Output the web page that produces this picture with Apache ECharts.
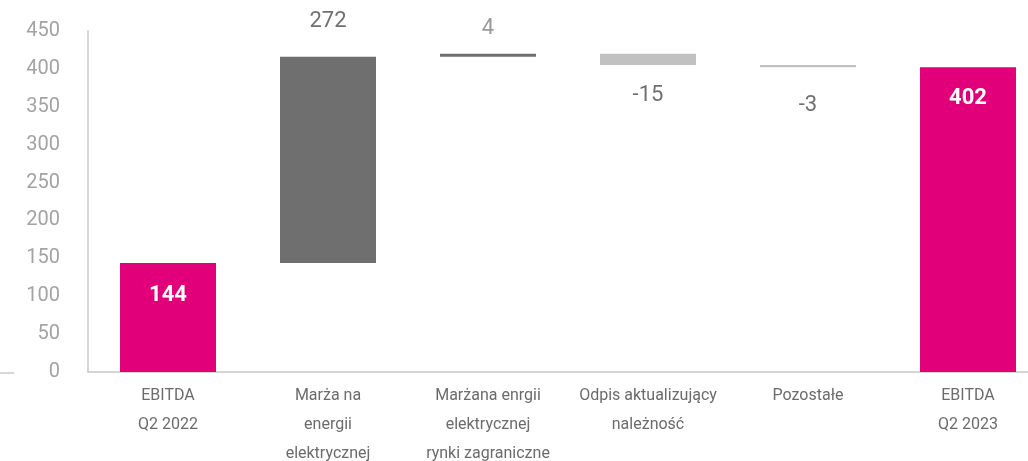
<!DOCTYPE html>
<html>
<head>
<meta charset="utf-8">
<script src="https://cdn.jsdelivr.net/npm/echarts@6/dist/echarts.min.js"></script>
<style>
  html, body { margin: 0; padding: 0; background: #fff; }
  #main { width: 1028px; height: 461px; }
</style>
</head>
<body>
<div id="main"></div>
<script>
// kategorie na osi X
const categories = [
  'EBITDA\nQ2 2022',
  'Marża na\nenergii\nelektrycznej',
  'Marżana enrgii\nelektrycznej\nrynki zagraniczne',
  'Odpis aktualizujący\nnależność',
  'Pozostałe',
  'EBITDA\nQ2 2023'
]
// wartości (pierwsza i ostatnia to sumy)
const values = [144, 272, 4, -15, -3, 402]
const isTotal = [true, false, false, false, false, true]

const colors = ['#e2007a', '#6f6f6f', '#6f6f6f', '#c1c1c1', '#c1c1c1', '#e2007a']

// podstawa niewidocznego słupka i wysokość widocznego
let running = 0
const base = []
const visible = []
values.forEach((v, i) => {
  if (isTotal[i]) {
    base.push(0)
    visible.push(v)
    running = v
  } else {
    const next = running + v
    base.push(Math.min(running, next))
    visible.push(Math.abs(v))
    running = next
  }
})

const labelDist = [22, 24, 14, 19, 27, 20]

const chart = echarts.init(document.getElementById('main'))
const option = {
  animation: false,
  grid: { left: 88, right: -20, top: 31, bottom: 89, containLabel: false, outerBoundsMode: 'none' },
  xAxis: {
    type: 'category',
    data: categories,
    axisLine: { lineStyle: { color: '#c8c8c8', width: 1.5 } },
    axisTick: { show: false },
    axisLabel: {
      color: '#6b6b6b',
      fontSize: 16,
      lineHeight: 29,
      fontFamily: 'Roboto',
      margin: 9,
      interval: 0
    }
  },
  yAxis: {
    type: 'value',
    min: 0,
    max: 450,
    interval: 50,
    axisLine: { show: true, lineStyle: { color: '#c8c8c8', width: 1.5 } },
    axisTick: { show: false },
    splitLine: { show: false },
    axisLabel: {
      color: '#a3a3a3',
      fontSize: 20,
      fontFamily: 'Roboto',
      margin: 28
    }
  },
  graphic: [
    {
      type: 'line',
      shape: { x1: 0, y1: 373, x2: 14, y2: 373 },
      style: { stroke: '#c8c8c8', lineWidth: 1.5 }
    }
  ],
  series: [
    {
      type: 'bar',
      stack: 'w',
      barWidth: 96,
      silent: true,
      itemStyle: { color: 'transparent' },
      data: base
    },
    {
      type: 'bar',
      stack: 'w',
      barWidth: 96,
      data: visible.map((h, i) => {
        const total = isTotal[i]
        const neg = values[i] < 0
        return {
          value: h,
          itemStyle: { color: colors[i] },
          label: {
            show: true,
            formatter: String(values[i]),
            position: total ? 'insideTop' : (neg ? 'bottom' : 'top'),
            distance: labelDist[i],
            color: total ? '#ffffff' : (i === 2 ? '#9a9a9a' : '#707070'),
            fontWeight: total ? 'bold' : 'normal',
            fontSize: 22,
            fontFamily: 'Roboto'
          }
        }
      })
    }
  ]
}
chart.setOption(option)
</script>
</body>
</html>
